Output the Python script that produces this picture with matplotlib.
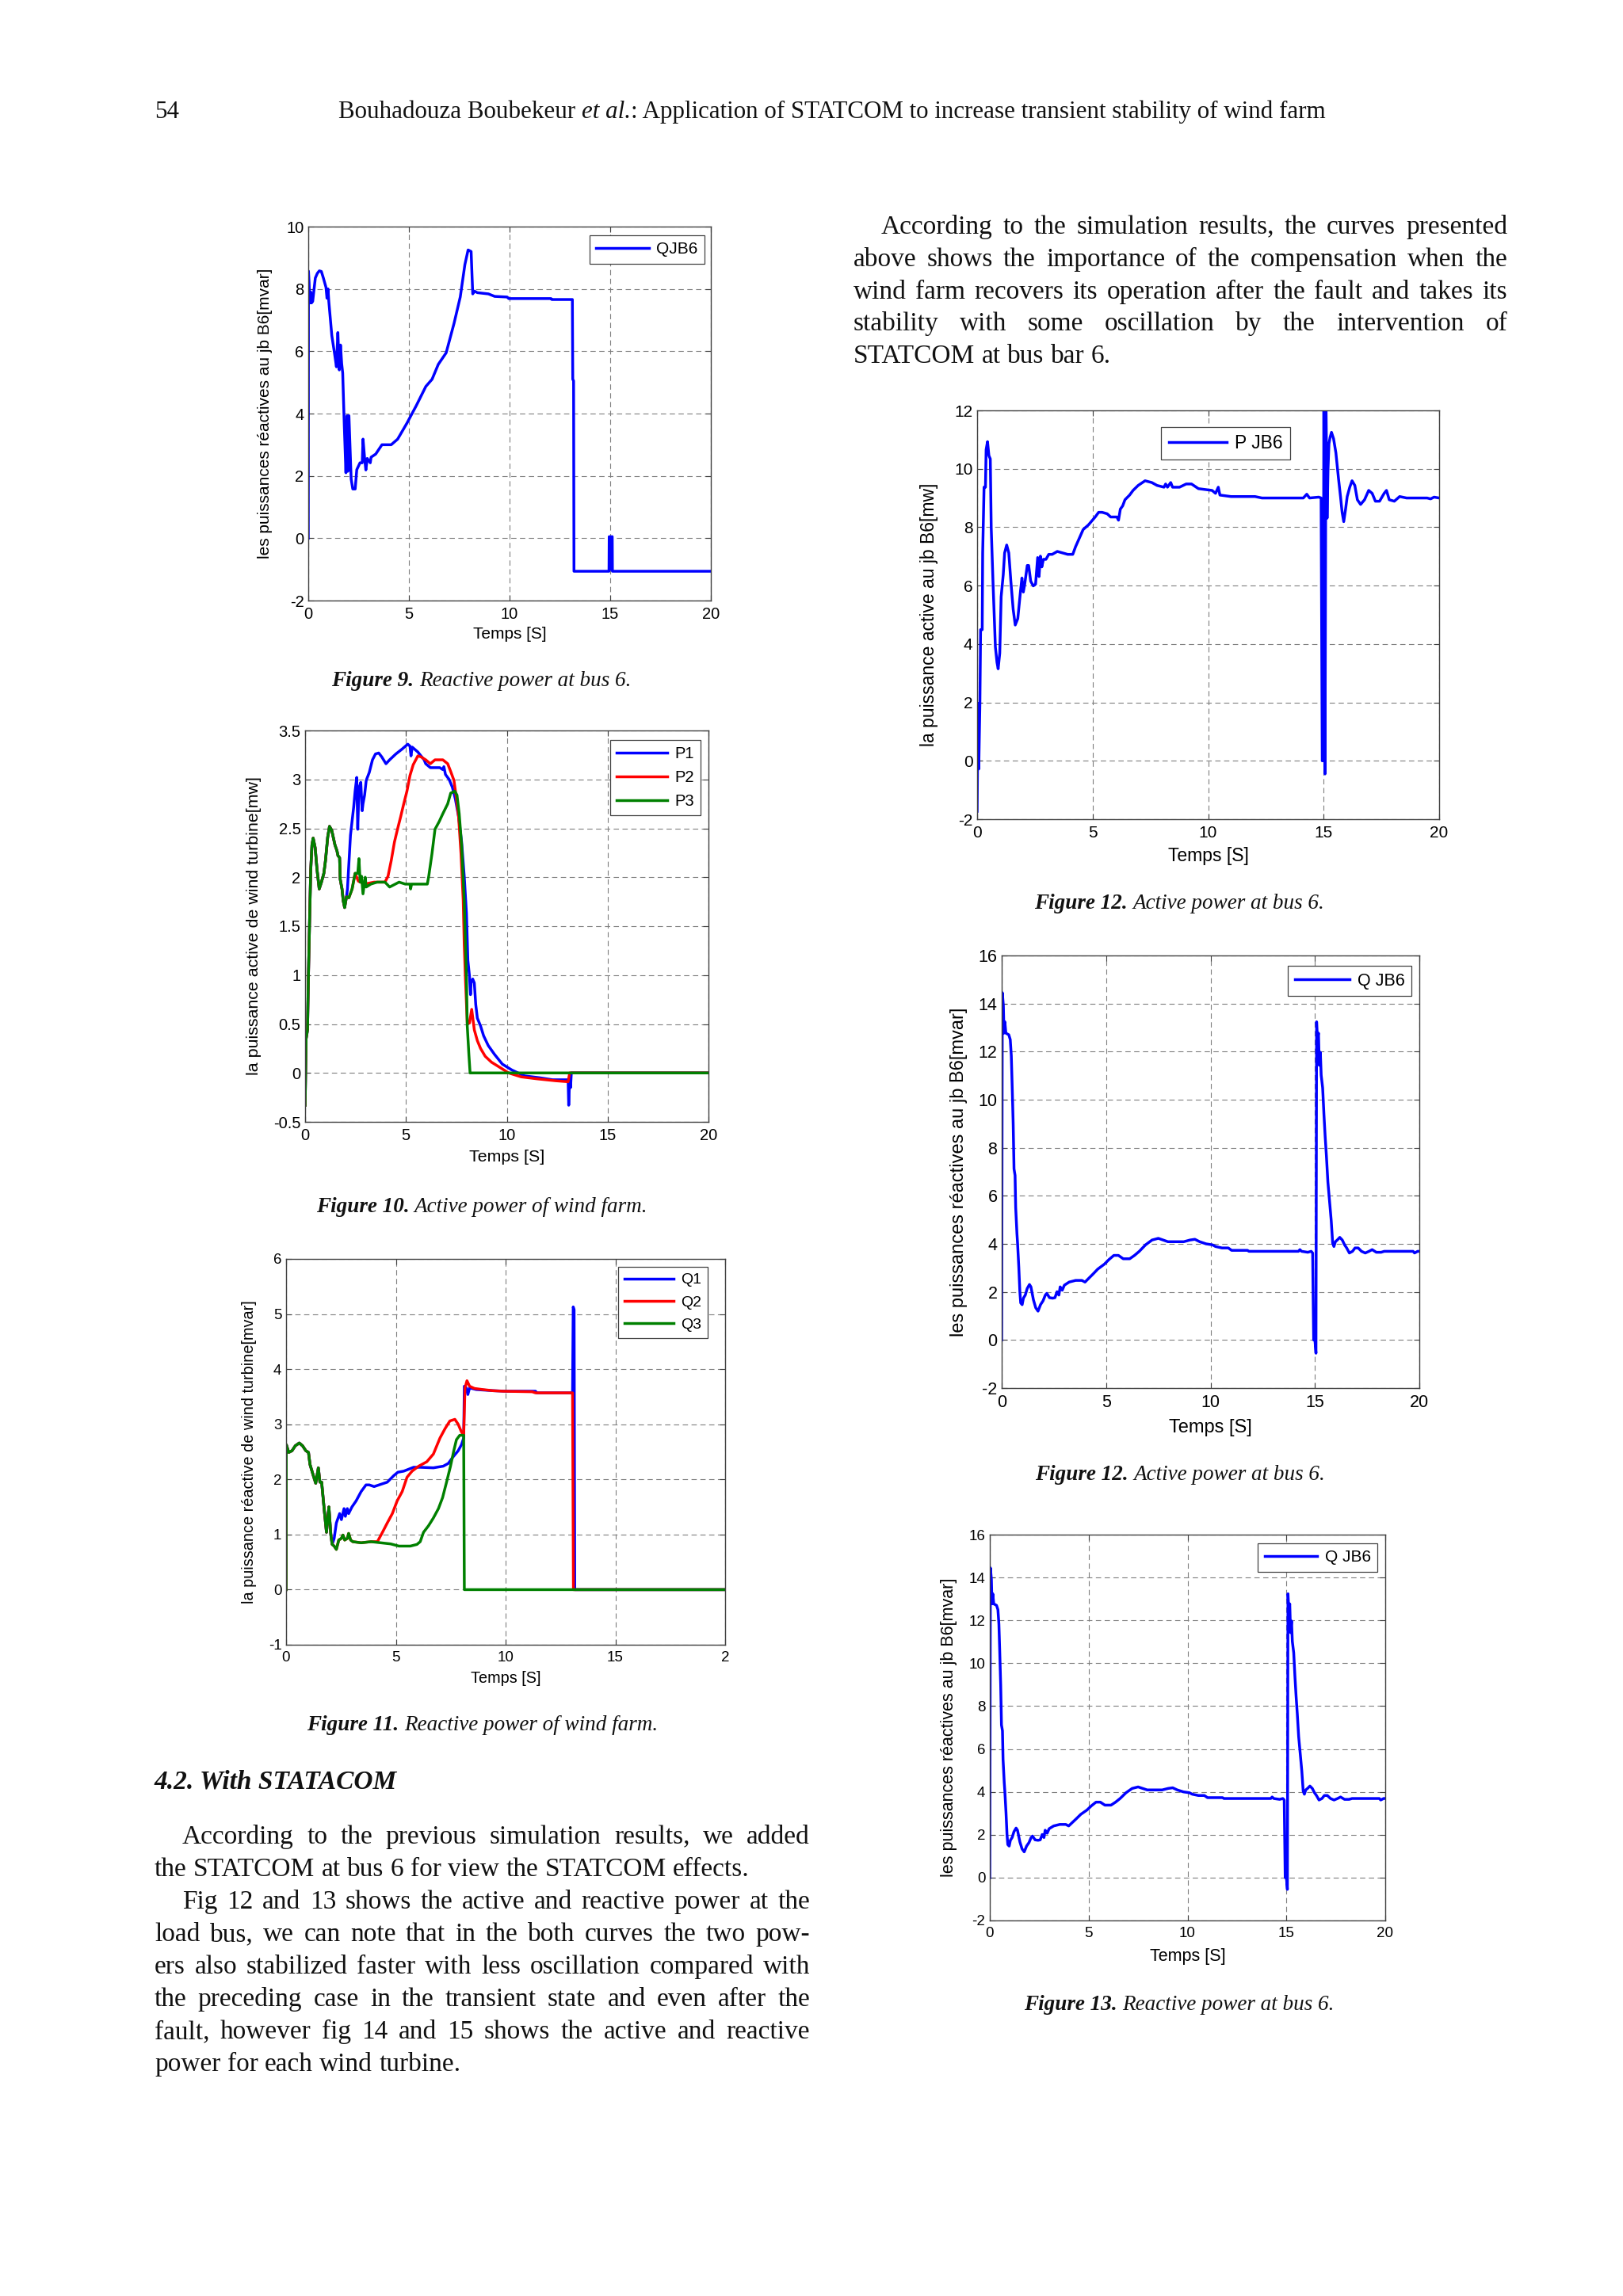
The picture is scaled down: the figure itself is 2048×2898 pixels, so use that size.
import matplotlib
matplotlib.use('Agg')
import matplotlib.pyplot as plt

plt.rcParams['font.family'] = ['Liberation Sans', 'DejaVu Sans']

W, H = 2048, 2898
BLUE, RED, GREEN = '#0000ff', '#ff0000', '#008000'
SERIF = 'Liberation Serif'

# ---------------- data ----------------
time_ticks = [0, 5, 10, 15, 20]
time_labels = ['0', '5', '10', '15', '20']

# Figure 9 : QJB6
q9_t = [0, 0.01, 0.04, 0.08, 0.12, 0.16, 0.22, 0.28, 0.35, 0.45, 0.55, 0.65, 0.75, 0.88, 0.93,
        0.98, 1.02, 1.17, 1.3, 1.4, 1.47, 1.54, 1.6, 1.66, 1.71, 1.79, 1.87, 1.93, 1.97, 2.02,
        2.13, 2.21, 2.33, 2.41, 2.57, 2.68, 2.72, 2.8, 2.86, 2.93, 3.08, 3.12, 3.35, 3.66, 4.12,
        4.44, 4.9, 5.37, 5.84, 6.15, 6.46, 6.85, 7.24, 7.55, 7.78, 7.94, 8.09, 8.17, 8.25, 8.4,
        8.95, 9.26, 9.88, 9.96, 12.06, 12.1, 13.12, 13.14, 13.18, 13.2, 14.94, 14.95, 14.98, 15.01,
        15.04, 15.07, 15.1, 15.11, 20]
q9_v = [0, 8.57, 8.2, 7.55, 7.9, 7.55, 7.6, 7.95, 8.35, 8.5, 8.58, 8.56, 8.35, 8.05, 7.7,
        8.0, 7.6, 6.5, 5.95, 5.5, 6.6, 5.4, 6.2, 5.6, 5.3, 3.6, 2.1, 3.93, 2.15, 3.93,
        1.9, 1.58, 1.58, 2.2, 2.42, 2.42, 3.18, 2.56, 2.19, 2.56, 2.42, 2.6, 2.7, 3.0, 3.0,
        3.18, 3.69, 4.26, 4.87, 5.1, 5.58, 5.95, 6.89, 7.74, 8.78, 9.25, 9.2, 7.84, 7.93, 7.88,
        7.84, 7.76, 7.74, 7.69, 7.69, 7.66, 7.66, 5.1, 5.05, -1.06, -1.06, 0.05, -1.0, 0.05,
        -1.0, 0.05, 0.05, -1.06, -1.06]

# Figure 10 : P1 P2 P3 (common start, shared low part, then own tails)
p_start_t = [0, 0.05, 0.12, 0.16, 0.23, 0.28, 0.34, 0.4, 0.5, 0.59, 0.7, 0.81, 0.93, 1.01, 1.12,
             1.21, 1.32, 1.48, 1.58, 1.63, 1.71, 1.74, 1.83, 1.89, 1.96, 2.05]
p_start_v = [-0.33, 0.35, 0.44, 0.95, 1.63, 2.08, 2.33, 2.4, 2.3, 2.08, 1.88, 1.95, 2.04, 2.17, 2.41,
             2.52, 2.48, 2.33, 2.27, 2.22, 2.2, 1.98, 1.88, 1.76, 1.69, 1.8]
p_low_t = [2.17, 2.33, 2.48]
p_low_v = [1.79, 1.88, 2.04]
p1_tail_t = [2.1, 2.25, 2.41, 2.48, 2.56, 2.61, 2.67, 2.76, 2.83, 2.87, 2.95, 3.03, 3.18, 3.34, 3.49,
             3.65, 3.8, 4.01, 4.19, 4.5, 4.81, 5.09, 5.2, 5.25, 5.31, 5.59, 5.9, 5.98, 6.21, 6.68,
             6.83, 6.88, 6.96, 7.14, 7.3, 7.45, 7.61, 7.76, 7.89, 8.0, 8.07, 8.15, 8.2, 8.23, 8.31,
             8.39, 8.46, 8.54, 8.7, 8.85, 9.08, 9.39, 9.78, 10.25, 10.87, 11.65, 12.27, 13.04, 13.07,
             13.12, 13.16, 13.2, 20]
p1_tail_v = [1.88, 2.43, 2.72, 2.88, 3.02, 2.49, 2.91, 2.97, 2.68, 2.75, 2.84, 2.99, 3.07, 3.2, 3.26,
             3.27, 3.23, 3.16, 3.2, 3.26, 3.31, 3.36, 3.34, 3.24, 3.33, 3.28, 3.2, 3.16, 3.12, 3.12,
             3.1, 3.13, 3.05, 3.0, 2.92, 2.8, 2.62, 2.36, 2.01, 1.63, 1.15, 0.99, 0.8, 0.92, 0.96,
             0.92, 0.7, 0.56, 0.48, 0.38, 0.28, 0.19, 0.09, 0.03, -0.03, -0.05, -0.07, -0.07, -0.33,
             -0.04, -0.15, 0, 0]
p2_tail_t = [2.64, 2.95, 3.42, 3.96, 4.11, 4.27, 4.43, 4.58, 4.74, 4.89, 5.05, 5.2, 5.36, 5.59, 5.75,
             5.98, 6.21, 6.44, 6.83, 7.07, 7.22, 7.38, 7.48, 7.61, 7.73, 7.84, 7.89, 7.95, 8.04, 8.15,
             8.26, 8.39, 8.54, 8.7, 8.93, 9.24, 9.63, 10.09, 10.71, 11.49, 12.42, 13.04, 13.12, 20]
p2_tail_v = [1.96, 1.93, 1.95, 1.95, 2.01, 2.17, 2.36, 2.49, 2.62, 2.75, 2.88, 3.04, 3.15, 3.24, 3.23,
             3.2, 3.16, 3.2, 3.2, 3.16, 3.08, 2.99, 2.84, 2.62, 2.24, 1.76, 1.31, 0.96, 0.51, 0.51,
             0.65, 0.44, 0.33, 0.25, 0.17, 0.11, 0.06, 0, -0.04, -0.06, -0.08, -0.09, 0, 0]
p3_tail_t = [2.61, 2.67, 2.73, 2.8, 2.87, 2.98, 3.03, 3.26, 3.57, 3.96, 4.19, 4.66, 4.97, 5.2, 5.23,
             5.28, 5.59, 6.06, 6.13, 6.29, 6.44, 6.65, 6.83, 7.07, 7.22, 7.42, 7.53, 7.64, 7.76, 7.89,
             8.0, 8.04, 8.12, 8.18, 20]
p3_tail_v = [2.04, 2.19, 1.95, 2.01, 1.83, 2.0, 1.9, 1.93, 1.95, 1.95, 1.9, 1.95, 1.93, 1.93, 1.88,
             1.93, 1.93, 1.93, 2.01, 2.24, 2.49, 2.57, 2.65, 2.75, 2.86, 2.88, 2.84, 2.65, 2.33, 1.76,
             0.96, 0.48, 0.19, 0, 0]

# Figure 11 : Q1 Q2 Q3
q_start_t = [0, 0.01, 0.12, 0.27, 0.42, 0.6, 0.75, 0.9, 1.02, 1.09, 1.24, 1.35, 1.47, 1.54, 1.62,
             1.74, 1.84, 1.95, 2.04, 2.1]
q_start_v = [0, 2.63, 2.49, 2.52, 2.61, 2.66, 2.61, 2.52, 2.49, 2.27, 2.07, 1.93, 2.21, 1.95, 1.95,
             1.44, 1.04, 1.5, 0.99, 0.82]
q_low_t = [2.19, 2.29, 2.4, 2.52, 2.59, 2.67, 2.79, 2.85, 2.94, 3.04, 3.42, 3.87]
q_low_v = [0.79, 0.73, 0.9, 0.93, 0.99, 0.9, 0.93, 1.02, 0.9, 0.87, 0.85, 0.87]
q1_tail_t = [2.19, 2.29, 2.44, 2.52, 2.64, 2.7, 2.79, 2.85, 3.0, 3.19, 3.42, 3.64, 3.79, 4.01, 4.31,
             4.61, 4.91, 5.09, 5.36, 5.81, 6.11, 6.71, 7.16, 7.39, 7.61, 7.84, 7.99, 8.09, 8.12, 8.21,
             8.28, 8.36, 8.66, 9.41, 10.01, 11.36, 11.43, 13.05, 13.08, 13.12, 13.15, 20]
q1_tail_v = [0.93, 1.21, 1.38, 1.27, 1.47, 1.33, 1.47, 1.38, 1.5, 1.61, 1.78, 1.9, 1.9, 1.87, 1.91,
             1.95, 2.07, 2.13, 2.15, 2.22, 2.22, 2.21, 2.24, 2.29, 2.41, 2.52, 2.63, 2.75, 3.69, 3.66,
             3.54, 3.66, 3.63, 3.61, 3.6, 3.6, 3.57, 3.57, 5.13, 5.08, 0, 0]
q2_tail_t = [4.16, 4.39, 4.61, 4.84, 5.06, 5.29, 5.51, 5.74, 6.04, 6.41, 6.71, 7.01, 7.24, 7.46, 7.69,
             7.84, 7.99, 8.09, 8.15, 8.24, 8.36, 8.58, 8.96, 9.41, 9.86, 11.21, 11.36, 13.05, 13.09, 20]
q2_tail_v = [0.87, 1.04, 1.21, 1.38, 1.61, 1.78, 2.04, 2.15, 2.24, 2.32, 2.46, 2.75, 2.92, 3.06, 3.09,
             3.0, 2.86, 2.8, 3.66, 3.79, 3.69, 3.65, 3.63, 3.61, 3.6, 3.59, 3.57, 3.57, 0, 0]
q3_tail_t = [4.31, 4.76, 5.14, 5.66, 5.96, 6.11, 6.26, 6.49, 6.71, 6.94, 7.13, 7.31, 7.49, 7.64, 7.76,
             7.91, 8.09, 8.12, 20]
q3_tail_v = [0.85, 0.83, 0.79, 0.79, 0.82, 0.87, 1.04, 1.16, 1.3, 1.47, 1.67, 1.95, 2.24, 2.52, 2.72,
             2.8, 2.8, 0, 0]

# Figure 12 (left) : P JB6 with STATCOM
p6_t = [0, 0.04, 0.07, 0.12, 0.15, 0.22, 0.24, 0.3, 0.36, 0.39, 0.45, 0.51, 0.57, 0.61, 0.69,
        0.73, 0.79, 0.86, 0.91, 0.98, 1.04, 1.13, 1.19, 1.28, 1.37, 1.46, 1.56, 1.65, 1.76, 1.88,
        1.94, 2.0, 2.06, 2.17, 2.23, 2.32, 2.43, 2.53, 2.62, 2.68, 2.74, 2.8, 2.87, 2.98, 3.1,
        3.25, 3.47, 3.69, 3.92, 4.14, 4.26, 4.44, 4.59, 4.82, 4.99, 5.11, 5.26, 5.41, 5.63, 5.78,
        6.05, 6.12, 6.2, 6.3, 6.4, 6.6, 6.75, 6.97, 7.27, 7.56, 7.79, 8.09, 8.16, 8.24, 8.38,
        8.46, 8.76, 9.05, 9.28, 9.58, 9.87, 10.17, 10.32, 10.44, 10.51, 10.99, 12.03, 12.33, 14.12, 14.27,
        14.39, 14.79, 14.89, 14.94, 14.98, 15.01, 15.06, 15.1, 15.15, 15.19, 15.23, 15.28, 15.34, 15.43, 15.53,
        15.64, 15.73, 15.8, 15.87, 15.95, 16.02, 16.13, 16.23, 16.35, 16.46, 16.6, 16.77, 16.95, 17.1, 17.24,
        17.42, 17.62, 17.72, 17.84, 18.06, 18.29, 18.59, 19.48, 19.63, 19.78, 20]
p6_v = [-1.73, 1.97, -0.28, 1.97, 4.49, 4.49, 7.12, 9.37, 9.37, 10.66, 10.93, 10.45, 10.34, 7.98, 6.05,
        5.19, 3.9, 3.37, 3.15, 3.69, 5.62, 6.37, 7.12, 7.39, 7.12, 6.15, 5.19, 4.65, 4.87, 5.83,
        6.26, 5.78, 6.05, 6.69, 6.69, 6.15, 5.99, 6.05, 6.96, 6.31, 7.01, 6.64, 6.9, 6.9, 7.07,
        7.07, 7.17, 7.12, 7.07, 7.07, 7.33, 7.65, 7.92, 8.08, 8.24, 8.35, 8.51, 8.51, 8.46, 8.35,
        8.35, 8.24, 8.62, 8.73, 8.94, 9.1, 9.26, 9.43, 9.59, 9.53, 9.43, 9.37, 9.48, 9.37, 9.53,
        9.37, 9.37, 9.48, 9.48, 9.32, 9.29, 9.26, 9.16, 9.37, 9.1, 9.05, 9.05, 9.0, 9.0, 9.13,
        9.0, 9.03, 9.0, 0, 0, 12.5, -0.45, 12.5, 8.31, 10.0, 10.86, 11.08, 11.25, 11.03, 10.55,
        9.69, 9.05, 8.51, 8.19, 8.62, 9.05, 9.37, 9.59, 9.43, 8.94, 8.78, 8.94, 9.26, 9.16, 8.89,
        8.89, 9.16, 9.26, 8.94, 8.89, 9.05, 9.0, 9.0, 8.97, 9.03, 9.0]

# Figures 12 (right) and 13 : Q JB6 with STATCOM
q6_t = [0, 0.03, 0.08, 0.11, 0.15, 0.2, 0.34, 0.41, 0.46, 0.5, 0.55, 0.59, 0.64, 0.67, 0.73,
        0.76, 0.82, 0.87, 0.91, 0.98, 1.04, 1.13, 1.22, 1.33, 1.4, 1.52, 1.63, 1.74, 1.86, 1.98,
        2.09, 2.16, 2.29, 2.44, 2.55, 2.65, 2.74, 2.8, 2.9, 3.0, 3.23, 3.54, 3.84, 3.99, 4.15,
        4.38, 4.6, 4.91, 5.14, 5.37, 5.59, 5.82, 6.13, 6.36, 6.59, 6.89, 7.2, 7.5, 7.73, 7.96,
        8.72, 9.02, 9.25, 9.48, 9.79, 10.09, 10.24, 10.55, 10.85, 11.01, 11.77, 11.84, 14.21, 14.28, 14.36,
        14.66, 14.82, 14.89, 14.94, 15.0, 15.05, 15.08, 15.12, 15.17, 15.21, 15.26, 15.3, 15.37, 15.43, 15.49,
        15.55, 15.62, 15.7, 15.78, 15.85, 15.91, 15.98, 16.07, 16.19, 16.31, 16.42, 16.52, 16.65, 16.8, 16.92,
        17.07, 17.23, 17.41, 17.59, 17.74, 17.94, 18.17, 18.32, 19.7, 19.77, 19.92, 20]
q6_v = [0, 14.45, 13.91, 12.77, 13.24, 12.77, 12.7, 12.5, 11.83, 10.62, 9.0, 7.12, 6.85, 5.51, 4.43,
        4.03, 3.02, 2.01, 1.54, 1.47, 1.74, 1.87, 2.14, 2.31, 2.21, 1.67, 1.34, 1.2, 1.47, 1.63,
        1.87, 1.94, 1.76, 1.74, 1.76, 2.01, 1.87, 2.21, 2.07, 2.28, 2.41, 2.48, 2.48, 2.41, 2.55,
        2.75, 2.95, 3.15, 3.35, 3.52, 3.52, 3.38, 3.38, 3.52, 3.69, 3.96, 4.16, 4.23, 4.16, 4.09,
        4.09, 4.16, 4.19, 4.09, 4.0, 3.96, 3.89, 3.83, 3.83, 3.73, 3.73, 3.69, 3.69, 3.76, 3.69,
        3.65, 3.69, 3.62, 0, 0, -0.55, 13.24, 12.5, 12.77, 11.43, 11.97, 11.02, 10.49, 9.41, 8.47,
        7.66, 6.58, 5.78, 4.97, 4.03, 3.89, 4.09, 4.16, 4.27, 4.16, 3.96, 3.83, 3.62, 3.69, 3.83,
        3.83, 3.69, 3.62, 3.69, 3.76, 3.65, 3.65, 3.69, 3.69, 3.62, 3.69, 3.69]

header_54 = '54'
header_runs = [('Bouhadouza Boubekeur', 'normal'), ('et al.', 'italic'),
               (': Application of STATCOM to increase transient stability of wind farm', 'normal')]

right_lines = [
    ("According to the simulation results, the curves presented", True, True),
    ("above shows the importance of the compensation when the", False, True),
    ("wind farm recovers its operation after the fault and takes its", False, True),
    ("stability with some oscillation by the intervention of", False, True),
    ("STATCOM at bus bar 6.", False, False)]

left_heading = '4.2. With STATACOM'
left_lines = [
    ("According to the previous simulation results, we added", True, True),
    ("the STATCOM at bus 6 for view the STATCOM effects.", False, False),
    ("Fig 12 and 13 shows the active and reactive power at the", True, True),
    ("load bus, we can note that in the both curves the two pow-", False, True),
    ("ers also stabilized faster with less oscillation compared with", False, True),
    ("the preceding case in the transient state and even after the", False, True),
    ("fault, however fig 14 and 15 shows the active and reactive", False, True),
    ("power for each wind turbine.", False, False)]

# ---------------- drawing ----------------
fig = plt.figure(figsize=(W / 100, H / 100), dpi=100)
fig.patch.set_facecolor('white')
rend = fig.canvas.get_renderer()


def fpos(x, y):
    return x / W, 1 - y / H


def new_axes(box, ylim, yticks, ylabels, xlabels, fs):
    x0, y0, x1, y1 = box
    ax = fig.add_axes([x0 / W, 1 - y1 / H, (x1 - x0) / W, (y1 - y0) / H])
    ax.set_xlim(0, 20)
    ax.set_ylim(*ylim)
    ax.set_xticks(time_ticks)
    ax.set_xticklabels(xlabels)
    ax.set_yticks(yticks)
    ax.set_yticklabels(ylabels)
    ax.tick_params(direction='in', length=5, width=0.8, top=True, right=True,
                   labelsize=fs, color='#404040')
    ax.tick_params(axis='x', pad=6)
    ax.tick_params(axis='y', pad=4)
    ax.grid(True, color='#7f7f7f', lw=0.8, ls=(0, (6, 4)))
    ax.set_axisbelow(True)
    for s in ax.spines.values():
        s.set_color('#404040')
        s.set_linewidth(1.0)
    return ax


def axis_labels(ax, box, ylabel, yl_x, xl_y, fs):
    x0, y0, x1, y1 = box
    ax.set_ylabel(ylabel, fontsize=fs, va='center')
    ax.yaxis.set_label_coords((yl_x - x0) / (x1 - x0), 0.5)
    ax.set_xlabel('Temps [S]', fontsize=fs, va='center')
    ax.xaxis.set_label_coords(0.5, (y1 - xl_y) / (y1 - y0))


def add_legend(ax, fs, right, top):
    leg = ax.legend(loc='upper right', bbox_to_anchor=(right / W, 1 - top / H),
                    bbox_transform=fig.transFigure, borderaxespad=0, fontsize=fs,
                    fancybox=False, framealpha=1, edgecolor='#404040', handlelength=3.2,
                    handletextpad=0.45, borderpad=0.4, labelspacing=0.55)
    leg.get_frame().set_linewidth(0.9)


def ticks_list(a, b, step):
    out = []
    v = a
    while v <= b + 1e-9:
        out.append(round(v, 2))
        v += step
    return out


def fmt(v):
    return ('%g' % v)


LW = 2.5

# Figure 9
b9 = (389, 286, 897, 758)
yt = ticks_list(-2, 10, 2)
ax = new_axes(b9, (-2, 10), yt, [fmt(v) for v in yt], time_labels, 14.5)
ax.plot(q9_t, q9_v, color=BLUE, lw=LW, label='QJB6')
axis_labels(ax, b9, 'les puissances réactives au jb B6[mvar]', 335, 800, 15)
add_legend(ax, 15, 889, 297)

# Figure 10
b10 = (385, 922, 894, 1416)
yt = ticks_list(-0.5, 3.5, 0.5)
ax = new_axes(b10, (-0.5, 3.5), yt, [fmt(v) for v in yt], time_labels, 14.5)
ax.plot(p_start_t + p1_tail_t, p_start_v + p1_tail_v, color=BLUE, lw=LW, label='P1')
ax.plot(p_start_t + p_low_t + p2_tail_t, p_start_v + p_low_v + p2_tail_v, color=RED, lw=LW, label='P2')
ax.plot(p_start_t + p_low_t + p3_tail_t, p_start_v + p_low_v + p3_tail_v, color=GREEN, lw=LW, label='P3')
axis_labels(ax, b10, 'la puissance active de wind turbine[mw]', 320, 1461, 15.4)
add_legend(ax, 14.5, 884, 934)

# Figure 11
b11 = (361, 1589, 915, 2076)
yt = ticks_list(-1, 6, 1)
ax = new_axes(b11, (-1, 6), yt, [fmt(v) for v in yt], ['0', '5', '10', '15', '2'], 13.5)
ax.plot(q_start_t + q1_tail_t, q_start_v + q1_tail_v, color=BLUE, lw=LW, label='Q1')
ax.plot(q_start_t + q_low_t + q2_tail_t, q_start_v + q_low_v + q2_tail_v, color=RED, lw=LW, label='Q2')
ax.plot(q_start_t + q_low_t + q3_tail_t, q_start_v + q_low_v + q3_tail_v, color=GREEN, lw=LW, label='Q3')
axis_labels(ax, b11, 'la puissance réactive de wind turbine[mvar]', 315, 2119, 14.3)
add_legend(ax, 14, 893, 1599)

# Figure 12 (left)
b12 = (1233, 518, 1816, 1034)
yt = ticks_list(-2, 12, 2)
ax = new_axes(b12, (-2, 12), yt, [fmt(v) for v in yt], time_labels, 15)
ax.plot(p6_t, p6_v, color=BLUE, lw=LW, label='P JB6')
axis_labels(ax, b12, 'la puissance active au jb B6[mw]', 1172, 1081, 16.5)
add_legend(ax, 16.5, 1628, 539)

# Figure 12 (right)
b12b = (1264, 1206, 1791, 1752)
yt = ticks_list(-2, 16, 2)
ax = new_axes(b12b, (-2, 16), yt, [fmt(v) for v in yt], time_labels, 15.5)
ax.plot(q6_t, q6_v, color=BLUE, lw=LW, label='Q JB6')
axis_labels(ax, b12b, 'les puissances réactives au jb B6[mvar]', 1210, 1802, 17)
add_legend(ax, 15.5, 1781, 1219)

# Figure 13
b13 = (1249, 1937, 1748, 2424)
ax = new_axes(b13, (-2, 16), yt, [fmt(v) for v in yt], time_labels, 13.5)
ax.plot(q6_t, q6_v, color=BLUE, lw=LW, label='Q JB6')
axis_labels(ax, b13, 'les puissances réactives au jb B6[mvar]', 1198, 2469, 15.5)
add_legend(ax, 15, 1738, 1948)


# ---------------- page text ----------------
def text_w(s, **kw):
    t = fig.text(0, 0, s, **kw)
    w = t.get_window_extent(renderer=rend).width
    t.remove()
    return w


def space_w(**kw):
    return text_w('x x', **kw) - text_w('xx', **kw)


def put(x, y, s, **kw):
    return fig.text(*fpos(x, y), s, va='baseline', ha='left', color='#111111', **kw)


def runs(parts, x, y, fs, center=False):
    # parts: list of (text, style, weight)
    sw = space_w(family=SERIF, fontsize=fs)
    widths = [text_w(s, family=SERIF, fontsize=fs, style=st, weight=wt) for s, st, wt in parts]
    if center:
        x = x - (sum(widths) + sw * (len(parts) - 1)) / 2
    for (s, st, wt), w in zip(parts, widths):
        put(x, y, s, family=SERIF, fontsize=fs, style=st, weight=wt)
        x += w + sw


def paragraph(lines, x0, x1, y0, dy, fs, indent):
    kw = dict(family=SERIF, fontsize=fs)
    sw = space_w(**kw)
    for i, (line, ind, just) in enumerate(lines):
        y = y0 + i * dy
        xs = x0 + (indent if ind else 0)
        words = line.split()
        ws = [text_w(w, **kw) for w in words]
        gap = (x1 - xs - sum(ws)) / (len(words) - 1) if just else sw
        x = xs
        for w, wd in zip(words, ws):
            put(x, y, w, **kw)
            x += wd + gap


# header
HFS = 22.3
put(195, 149, header_54, family=SERIF, fontsize=HFS)
hx = 427
hsw = space_w(family=SERIF, fontsize=HFS)
for i, (s, st) in enumerate(header_runs):
    put(hx, 149, s, family=SERIF, fontsize=HFS, style=st)
    hx += text_w(s, family=SERIF, fontsize=HFS, style=st)
    if i == 0:
        hx += hsw

# captions
cap_fs = 19.5
runs([('Figure 9.', 'italic', 'bold'), ('Reactive power at bus 6.', 'italic', 'normal')], 607, 866, cap_fs, True)
runs([('Figure 10.', 'italic', 'bold'), ('Active power of wind farm.', 'italic', 'normal')], 608, 1530, cap_fs, True)
runs([('Figure 11.', 'italic', 'bold'), ('Reactive power of wind farm.', 'italic', 'normal')], 609, 2184, cap_fs, True)
runs([('Figure 12.', 'italic', 'bold'), ('Active power at bus 6.', 'italic', 'normal')], 1488, 1147, cap_fs, True)
runs([('Figure 12.', 'italic', 'bold'), ('Active power at bus 6.', 'italic', 'normal')], 1489, 1868, cap_fs, True)
runs([('Figure 13.', 'italic', 'bold'), ('Reactive power at bus 6.', 'italic', 'normal')], 1488, 2537, cap_fs, True)

# body text
paragraph(right_lines, 1077, 1902, 295, 40.8, 24, 35)
put(195, 2257, left_heading, family=SERIF, fontsize=24, style='italic', weight='bold')
paragraph(left_lines, 195, 1022, 2327, 41, 24, 35)

fig.savefig('out.png', dpi=100)
